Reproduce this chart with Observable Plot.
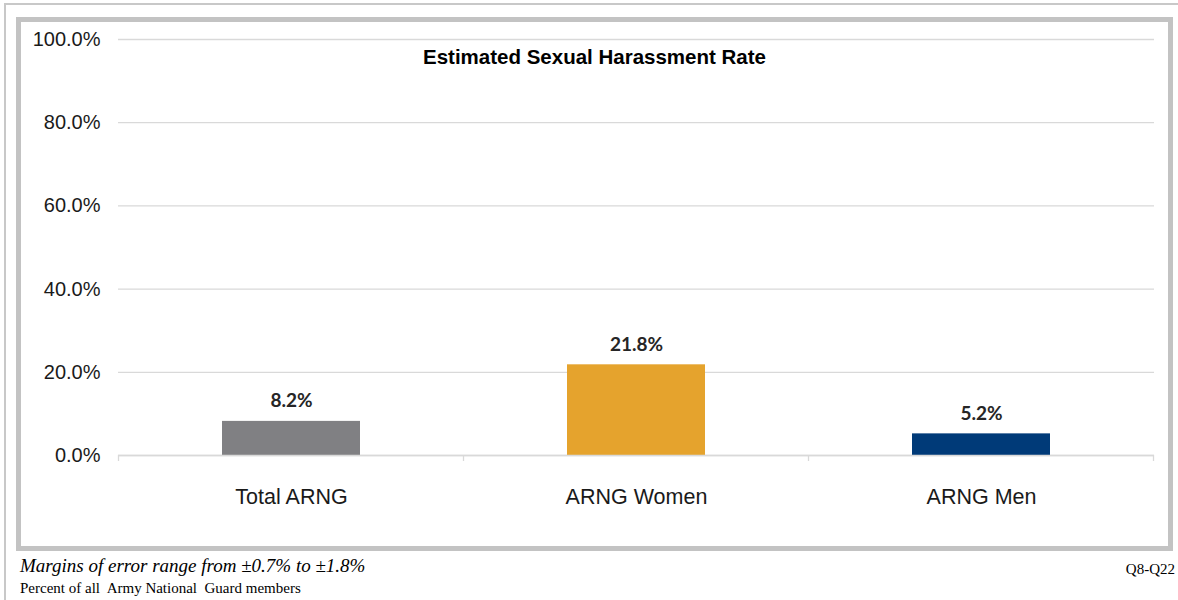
<!DOCTYPE html>
<html>
<head>
<meta charset="utf-8">
<script src="https://cdn.jsdelivr.net/npm/d3@7"></script>
<script src="https://cdn.jsdelivr.net/npm/@observablehq/plot@0.6"></script>
<style>
  body { margin: 0; background: #fff; width: 1178px; height: 600px; position: relative; overflow: hidden; }
  #outer { position: absolute; left: 4px; top: 3px; width: 1180px; height: 600px; border-top: 2px solid #c8c8c8; border-left: 2px solid #c8c8c8; box-sizing: border-box; }
  #frame { position: absolute; left: 16px; top: 17px; width: 1157px; height: 534px; border: 5px solid #c3c3c3; box-sizing: border-box; background: #fff; }
  #title { position: absolute; left: 0; width: 100%; top: 23px; text-align: center; font: bold 20.5px "Liberation Sans", Arial, sans-serif; color: #000; }
  #chart { position: absolute; left: 0; top: 0; }
  .foot { position: absolute; font-family: "Liberation Serif", "Times New Roman", serif; color: #000; white-space: nowrap; }
</style>
</head>
<body>
<div id="outer"></div>
<div id="frame">
  <div id="chart"></div>
  <div id="title">Estimated Sexual Harassment Rate</div>
</div>
<div class="foot" id="moe" style="left:20px; top:555px; font-size:19px; font-style:italic;">Margins of error range from ±0.7% to ±1.8%</div>
<div class="foot" id="pct" style="left:20px; top:580px; font-size:15px;">Percent of all&nbsp; Army National&nbsp; Guard members</div>
<div class="foot" id="q" style="right:3px; top:561px; font-size:15px;">Q8-Q22</div>
<script>
const categories = ["Total ARNG", "ARNG Women", "ARNG Men"];
const rates = [8.2, 21.8, 5.2];
const colors = ["#808083", "#e5a32d", "#003a78"];
const yTicks = [0, 20, 40, 60, 80, 100];

const data = categories.map((c, i) => ({category: c, rate: rates[i]}));

// Small tick marks at band boundaries below the baseline
function boundaryTicks(index, scales, values, dimensions) {
  const x = scales.x, y = scales.y;
  const step = x.step();
  const pad = (step - x.bandwidth()) / 2;
  const xs = categories.map(c => x(c) - pad);
  xs.push(x(categories[categories.length - 1]) + x.bandwidth() + pad);
  const g = d3.create("svg:g");
  const y0 = y(0);
  g.selectAll("line").data(xs).join("line")
    .attr("x1", d => d).attr("x2", d => d)
    .attr("y1", y0).attr("y2", y0 + 6)
    .attr("stroke", "#d9d9d9").attr("stroke-width", 1.3);
  return g.node();
}

const chart = Plot.plot({
  width: 1147,
  height: 524,
  marginLeft: 97,
  marginRight: 14,
  marginTop: 17,
  marginBottom: 91,
  style: { fontFamily: "'Liberation Sans', Arial, sans-serif", fontSize: "20px", color: "#000", background: "transparent" },
  x: { domain: categories, paddingInner: 0.6, paddingOuter: 0.3, label: null },
  y: { domain: [0, 100], label: null },
  color: { domain: categories, range: colors },
  marks: [
    Plot.gridY(yTicks, { stroke: "#d9d9d9", strokeOpacity: 1, strokeWidth: 1.3 }),
    Plot.axisY(yTicks, { tickSize: 0, tickPadding: 18, tickFormat: d => d.toFixed(1) + "%", fontSize: 20, fill: "#1a1a1a" }),
    Plot.axisX({ tickSize: 0, tickPadding: 33, fontSize: 21.5, fill: "#1a1a1a" }),
    Plot.barY(data, { x: "category", y: "rate", fill: "category" }),
    Plot.ruleY([0], { stroke: "#d9d9d9", strokeWidth: 1.3 }),
    boundaryTicks,
    Plot.text(data, { x: "category", y: "rate", text: d => d.rate.toFixed(1) + "%", dy: -20, lineAnchor: "middle",
      fontWeight: "bold", fontSize: 19, fill: "#262626", fontFamily: "Lato, 'Open Sans', sans-serif" })
  ]
});
document.getElementById("chart").appendChild(chart);
</script>
</body>
</html>
